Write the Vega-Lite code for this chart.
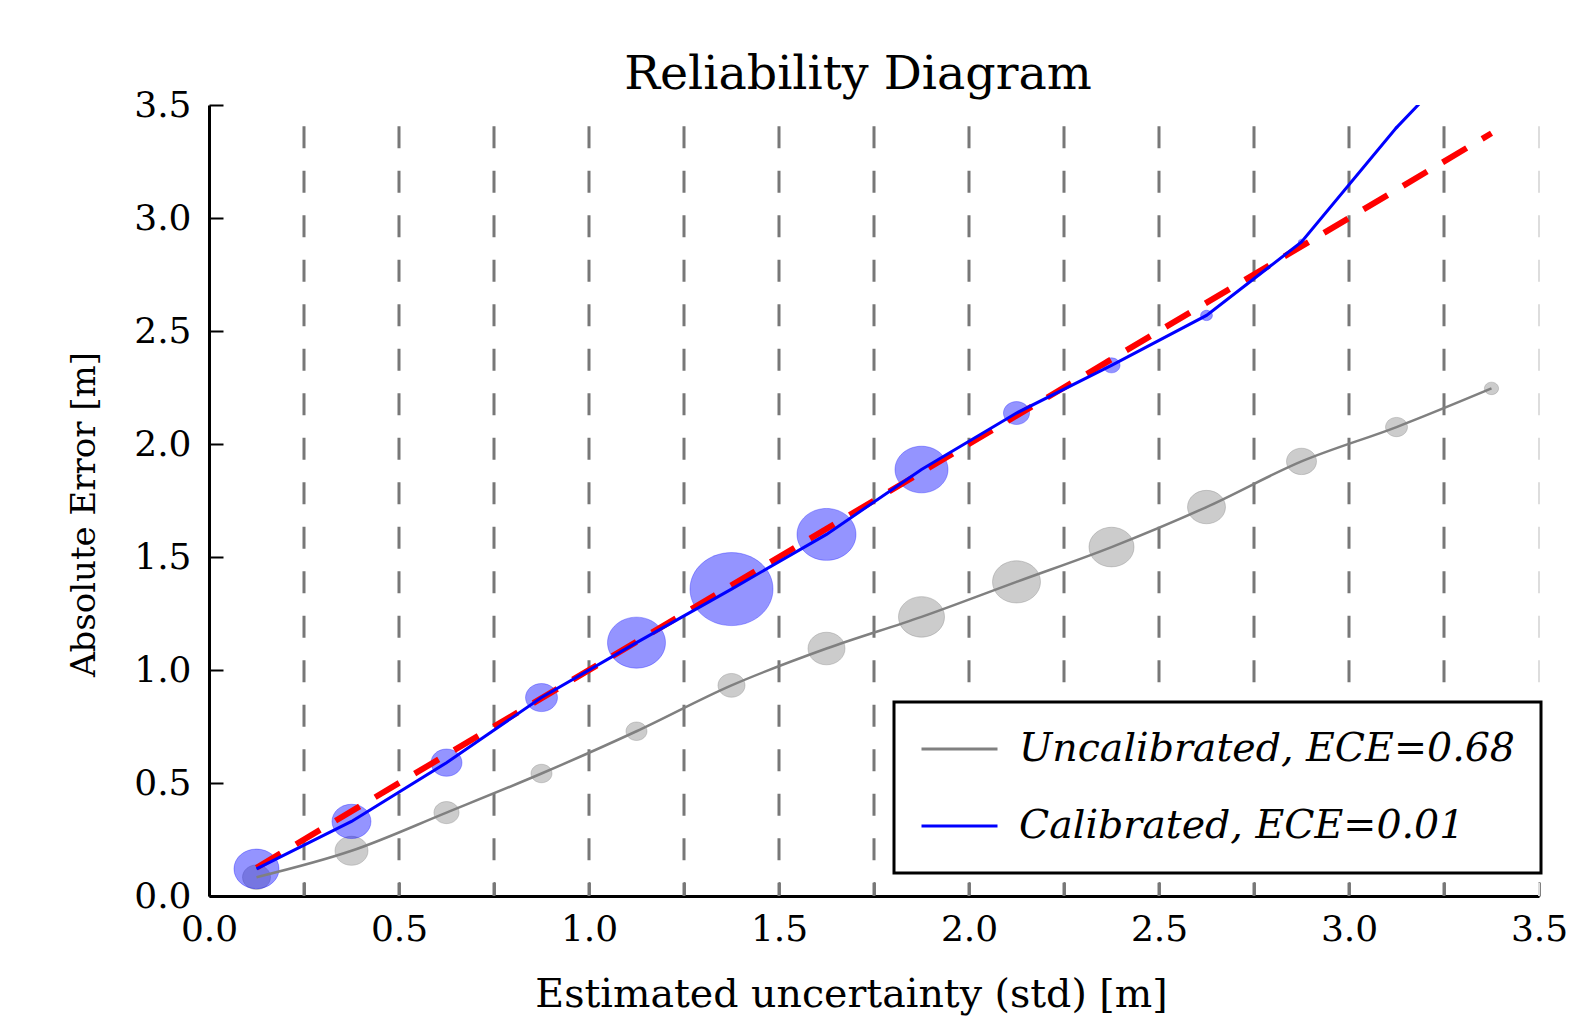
{
  "$schema": "https://vega.github.io/schema/vega-lite/v6.json",
  "width": 1330,
  "height": 791,
  "autosize": {"type": "none"},
  "padding": {"left": 209, "top": 105, "right": 39, "bottom": 138},
  "background": "white",
  "title": {"text": "Reliability Diagram", "font": "DejaVu Serif", "fontSize": 47.5, "fontWeight": "normal", "color": "black", "anchor": "middle", "frame": "group", "dx": -16, "dy": 61, "offset": 12, "baseline": "alphabetic"},
  "config": {
    "view": {"stroke": null},
    "axis": {
      "grid": false,
      "domainColor": "black",
      "domainWidth": 3,
      "tickColor": "black",
      "tickWidth": 2,
      "tickSize": -14,
      "labelFont": "DejaVu Serif",
      "labelFontSize": 36,
      "labelColor": "black",
      "titleFont": "DejaVu Serif",
      "titleFontWeight": "normal",
      "titleColor": "black"
    }
  },
  "datasets": {
    "edges": [
      {"edge": 0.25}, {"edge": 0.5}, {"edge": 0.75}, {"edge": 1.0}, {"edge": 1.25}, {"edge": 1.5}, {"edge": 1.75},
      {"edge": 2.0}, {"edge": 2.25}, {"edge": 2.5}, {"edge": 2.75}, {"edge": 3.0}, {"edge": 3.25}
    ],
    "bins": [
      {"series": "Uncalibrated, ECE=0.68", "x": 0.125, "y": 0.083, "n": 78},
      {"series": "Uncalibrated, ECE=0.68", "x": 0.375, "y": 0.2, "n": 109},
      {"series": "Uncalibrated, ECE=0.68", "x": 0.625, "y": 0.369, "n": 63},
      {"series": "Uncalibrated, ECE=0.68", "x": 0.875, "y": 0.542, "n": 44},
      {"series": "Uncalibrated, ECE=0.68", "x": 1.125, "y": 0.729, "n": 44},
      {"series": "Uncalibrated, ECE=0.68", "x": 1.375, "y": 0.932, "n": 73},
      {"series": "Uncalibrated, ECE=0.68", "x": 1.625, "y": 1.095, "n": 137},
      {"series": "Uncalibrated, ECE=0.68", "x": 1.875, "y": 1.235, "n": 212},
      {"series": "Uncalibrated, ECE=0.68", "x": 2.125, "y": 1.39, "n": 230},
      {"series": "Uncalibrated, ECE=0.68", "x": 2.375, "y": 1.544, "n": 203},
      {"series": "Uncalibrated, ECE=0.68", "x": 2.625, "y": 1.721, "n": 144},
      {"series": "Uncalibrated, ECE=0.68", "x": 2.875, "y": 1.923, "n": 90},
      {"series": "Uncalibrated, ECE=0.68", "x": 3.125, "y": 2.075, "n": 48},
      {"series": "Uncalibrated, ECE=0.68", "x": 3.375, "y": 2.246, "n": 20},
      {"series": "Calibrated, ECE=0.01", "x": 0.125, "y": 0.12, "n": 203},
      {"series": "Calibrated, ECE=0.01", "x": 0.375, "y": 0.33, "n": 152},
      {"series": "Calibrated, ECE=0.01", "x": 0.625, "y": 0.59, "n": 96},
      {"series": "Calibrated, ECE=0.01", "x": 0.875, "y": 0.878, "n": 102},
      {"series": "Calibrated, ECE=0.01", "x": 1.125, "y": 1.121, "n": 336},
      {"series": "Calibrated, ECE=0.01", "x": 1.375, "y": 1.358, "n": 689},
      {"series": "Calibrated, ECE=0.01", "x": 1.625, "y": 1.6, "n": 348},
      {"series": "Calibrated, ECE=0.01", "x": 1.875, "y": 1.887, "n": 281},
      {"series": "Calibrated, ECE=0.01", "x": 2.125, "y": 2.137, "n": 68},
      {"series": "Calibrated, ECE=0.01", "x": 2.375, "y": 2.348, "n": 29},
      {"series": "Calibrated, ECE=0.01", "x": 2.625, "y": 2.569, "n": 14},
      {"series": "Calibrated, ECE=0.01", "x": 2.875, "y": 2.894, "n": 4},
      {"series": "Calibrated, ECE=0.01", "x": 3.125, "y": 3.4, "n": 1},
      {"series": "Calibrated, ECE=0.01", "x": 3.375, "y": 3.84, "n": 0}
    ],
    "ideal": [
      {"x": 0.125, "y": 0.125},
      {"x": 3.375, "y": 3.375}
    ]
  },
  "layer": [
    {
      "data": {"name": "edges"},
      "mark": {"type": "rule", "color": "#777777", "strokeWidth": 3, "strokeDash": [22, 22.5], "strokeDashOffset": 23.2},
      "encoding": {
        "x": {"field": "edge", "type": "quantitative", "scale": {"domain": [0, 3.5], "nice": false, "zero": false},
          "axis": {
            "values": [0, 0.25, 0.5, 0.75, 1, 1.25, 1.5, 1.75, 2, 2.25, 2.5, 2.75, 3, 3.25, 3.5],
            "labelExpr": "(round(datum.value*100) % 50 == 0) ? format(datum.value, '.1f') : ''",
            "labelPadding": 30,
            "labelFlush": false,
            "title": "Estimated uncertainty (std) [m]",
            "titleFontSize": 39.5,
            "titleX": 642,
            "titleY": 110,
            "titleBaseline": "alphabetic",
            "titleAlign": "center"
          }
        }
      }
    },
    {
      "data": {"values": [{"edge": 3.5}]},
      "mark": {"type": "rule", "color": "#dddddd", "strokeWidth": 2, "strokeDash": [22, 22.5], "strokeDashOffset": 23.2},
      "encoding": {
        "x": {"field": "edge", "type": "quantitative"}
      }
    },
    {
      "data": {"name": "bins"},
      "transform": [{"filter": "datum.series == 'Uncalibrated, ECE=0.68'"}],
      "mark": {"type": "point", "shape": "M-1,0A1,0.88,0,1,0,1,0A1,0.88,0,1,0,-1,0Z", "filled": true, "fill": "#808080", "fillOpacity": 0.4, "stroke": "#808080", "strokeOpacity": 0.35, "strokeWidth": 1, "clip": true},
      "encoding": {
        "x": {"field": "x", "type": "quantitative"},
        "y": {"field": "y", "type": "quantitative", "scale": {"domain": [0, 3.5], "nice": false, "zero": false},
          "axis": {
            "values": [0, 0.5, 1, 1.5, 2, 2.5, 3, 3.5],
            "format": ".1f",
            "labelPadding": 32,
            "labelFlush": false,
            "title": "Absolute Error [m]",
            "titleFontSize": 34,
            "titleAngle": -90,
            "titleX": -115,
            "titleY": 409,
            "titleBaseline": "alphabetic",
            "titleAlign": "center"
          }
        },
        "size": {"field": "n", "type": "quantitative", "scale": {"type": "linear", "domain": [0, 1000], "range": [0, 10000], "zero": true}, "legend": null}
      }
    },
    {
      "data": {"name": "bins"},
      "transform": [{"filter": "datum.series == 'Calibrated, ECE=0.01'"}],
      "mark": {"type": "point", "shape": "M-1,0A1,0.88,0,1,0,1,0A1,0.88,0,1,0,-1,0Z", "filled": true, "fill": "#0000ff", "fillOpacity": 0.42, "stroke": "#0000ff", "strokeOpacity": 0.3, "strokeWidth": 1, "clip": true},
      "encoding": {
        "x": {"field": "x", "type": "quantitative"},
        "y": {"field": "y", "type": "quantitative"},
        "size": {"field": "n", "type": "quantitative", "legend": null}
      }
    },
    {
      "data": {"name": "bins"},
      "transform": [{"filter": "datum.series == 'Uncalibrated, ECE=0.68'"}],
      "mark": {"type": "line", "strokeWidth": 2.5, "interpolate": "monotone", "clip": true},
      "encoding": {
        "x": {"field": "x", "type": "quantitative"},
        "y": {"field": "y", "type": "quantitative"},
        "color": {"field": "series", "type": "nominal",
          "scale": {"domain": ["Uncalibrated, ECE=0.68", "Calibrated, ECE=0.01"], "range": ["#808080", "#0000ff"]},
          "legend": {
            "title": null,
            "orient": "none",
            "legendX": 685,
            "legendY": 597,
            "symbolType": "stroke",
            "symbolSize": 5776,
            "symbolStrokeWidth": 3,
            "clipHeight": 42,
            "rowPadding": 35,
            "labelFont": "DejaVu Serif",
            "labelFontStyle": "italic",
            "labelFontSize": 39.5,
            "labelColor": "black",
            "labelOffset": 20,
            "labelLimit": 2000,
            "padding": 26,
            "strokeColor": "black",
            "fillColor": "white",
            "cornerRadius": 0,
            "encode": {"legend": {"update": {"strokeWidth": {"value": 3}}}}
          }
        }
      }
    },
    {
      "data": {"name": "ideal"},
      "mark": {"type": "line", "color": "#ff0000", "strokeWidth": 6, "strokeDash": [28, 18], "clip": true},
      "encoding": {
        "x": {"field": "x", "type": "quantitative"},
        "y": {"field": "y", "type": "quantitative"}
      }
    },
    {
      "data": {"name": "bins"},
      "transform": [{"filter": "datum.series == 'Calibrated, ECE=0.01'"}],
      "mark": {"type": "line", "strokeWidth": 3, "clip": true},
      "encoding": {
        "x": {"field": "x", "type": "quantitative"},
        "y": {"field": "y", "type": "quantitative"},
        "color": {"field": "series", "type": "nominal"}
      }
    }
  ]
}
